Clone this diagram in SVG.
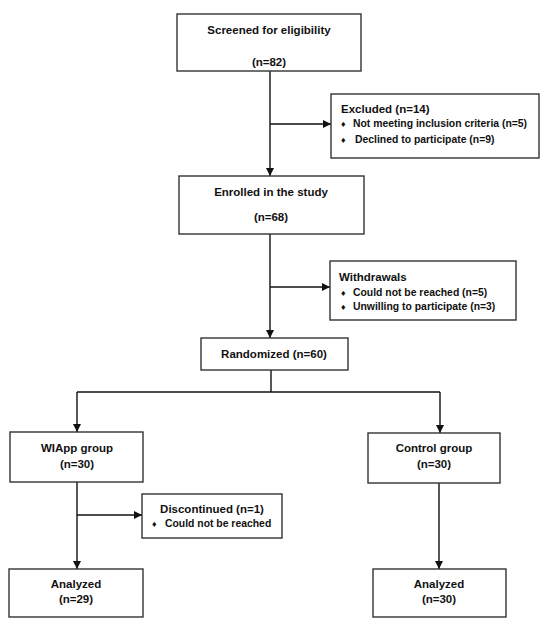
<svg xmlns="http://www.w3.org/2000/svg" width="550" height="626" viewBox="0 0 550 626">
<style>
.box{fill:#fff;stroke:#333;stroke-width:1.4}
.t{font-family:"Liberation Sans",Arial,sans-serif;font-weight:bold;font-size:11.5px;fill:#111}
.c{text-anchor:middle}
.s{font-size:10.4px}
.b{font-size:9px}
.ln{fill:none;stroke:#111;stroke-width:1.4}
</style>
<defs>
<marker id="ah" markerUnits="userSpaceOnUse" markerWidth="8" markerHeight="8" viewBox="0 0 10 10" refX="10" refY="5" orient="auto">
<path d="M0,0 L10,5 L0,10 z" fill="#111"/>
</marker>
</defs>
<rect width="550" height="626" fill="#fff"/>
<g id="connectors">
<line class="ln" x1="270" y1="71" x2="270" y2="176" marker-end="url(#ah)"/>
<line class="ln" x1="270" y1="124" x2="331" y2="124" marker-end="url(#ah)"/>
<line class="ln" x1="270" y1="234" x2="270" y2="338" marker-end="url(#ah)"/>
<line class="ln" x1="270" y1="287" x2="330" y2="287" marker-end="url(#ah)"/>
<line class="ln" x1="271" y1="370" x2="271" y2="392"/>
<line class="ln" x1="77" y1="392" x2="440" y2="392"/>
<line class="ln" x1="77" y1="392" x2="77" y2="432" marker-end="url(#ah)"/>
<line class="ln" x1="440" y1="392" x2="440" y2="433" marker-end="url(#ah)"/>
<line class="ln" x1="77" y1="482" x2="77" y2="569" marker-end="url(#ah)"/>
<line class="ln" x1="77" y1="515" x2="142" y2="515" marker-end="url(#ah)"/>
<line class="ln" x1="439" y1="483" x2="439" y2="569" marker-end="url(#ah)"/>
</g>
<g id="screened">
<rect class="box" x="177" y="14" width="184" height="57"/>
<text class="t c" x="269" y="34">Screened for eligibility</text>
<text class="t c" x="269" y="66">(n=82)</text>
</g>
<g id="excluded">
<rect class="box" x="331" y="94" width="208" height="64"/>
<text class="t" x="341" y="113">Excluded (n=14)</text>
<text class="t b" x="341" y="127">♦</text>
<text class="t s" x="353" y="127">Not meeting inclusion criteria (n=5)</text>
<text class="t b" x="341" y="143">♦</text>
<text class="t s" x="355" y="143">Declined to participate (n=9)</text>
</g>
<g id="enrolled">
<rect class="box" x="179" y="176" width="185" height="58"/>
<text class="t c" x="271" y="196">Enrolled in the study</text>
<text class="t c" x="271" y="221">(n=68)</text>
</g>
<g id="withdrawals">
<rect class="box" x="330" y="261" width="186" height="59"/>
<text class="t" x="339" y="281">Withdrawals</text>
<text class="t b" x="341" y="296">♦</text>
<text class="t s" x="353" y="296">Could not be reached (n=5)</text>
<text class="t b" x="341" y="310">♦</text>
<text class="t s" x="353" y="310">Unwilling to participate (n=3)</text>
</g>
<g id="randomized">
<rect class="box" x="201" y="338" width="147" height="32"/>
<text class="t c" x="274" y="358">Randomized (n=60)</text>
</g>
<g id="wiapp">
<rect class="box" x="10" y="432" width="133" height="50"/>
<text class="t c" x="77" y="452">WIApp group</text>
<text class="t c" x="77" y="468">(n=30)</text>
</g>
<g id="control">
<rect class="box" x="368" y="433" width="132" height="50"/>
<text class="t c" x="434" y="452">Control group</text>
<text class="t c" x="434" y="468">(n=30)</text>
</g>
<g id="discontinued">
<rect class="box" x="142" y="494" width="140" height="44"/>
<text class="t c" x="212" y="513">Discontinued (n=1)</text>
<text class="t b" x="152" y="527">♦</text>
<text class="t s" x="165" y="527">Could not be reached</text>
</g>
<g id="analyzed1">
<rect class="box" x="9" y="569" width="134" height="48"/>
<text class="t c" x="76" y="588">Analyzed</text>
<text class="t c" x="76" y="603">(n=29)</text>
</g>
<g id="analyzed2">
<rect class="box" x="373" y="569" width="133" height="48"/>
<text class="t c" x="439" y="588">Analyzed</text>
<text class="t c" x="439" y="603">(n=30)</text>
</g>
</svg>
